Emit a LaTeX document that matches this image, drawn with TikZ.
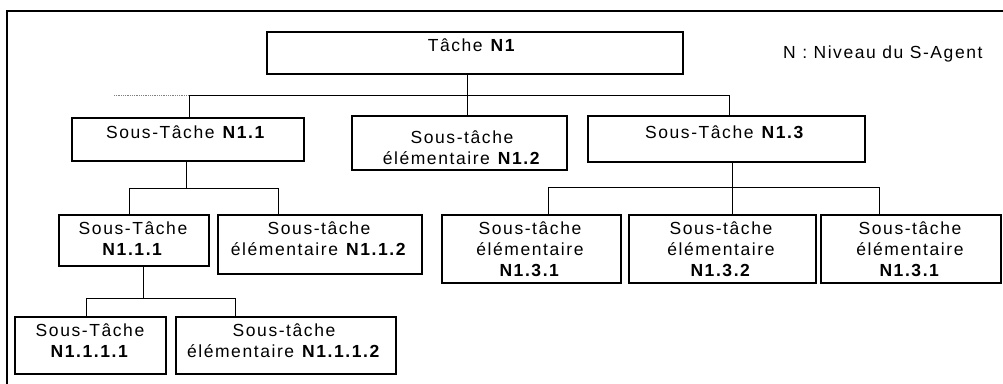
\documentclass[tikz,border=0pt]{standalone}
\usepackage{fontspec}
\setmainfont{Liberation Sans}[LetterSpace=9]
\begin{document}
\begin{tikzpicture}[x=1pt,y=-1pt,
  box/.style={draw, line width=1.6pt, inner sep=0pt, outer sep=0pt, anchor=north west},
  txt/.style={inner sep=0pt, anchor=north, align=center, font=\fontsize{17.5}{21}\selectfont},
  conn/.style={line width=0.8pt},
  frame/.style={line width=2pt}]
\useasboundingbox (0,0) rectangle (1003,383);
% outer frame (cut at right and bottom)
\coordinate (fb) at (7,390);
\coordinate (ftl) at (7,11);
\coordinate (fr) at (1010,11);
\draw[frame] (fb) -- (ftl) -- (fr);
% boxes
\node[box, minimum width=416pt, minimum height=42pt] (n1) at (267,32) {};
\node[box, minimum width=232pt, minimum height=43pt] (n11) at (72,118) {};
\node[box, minimum width=215pt, minimum height=54pt] (n12) at (352,116) {};
\node[box, minimum width=277pt, minimum height=46pt] (n13) at (588,116) {};
\node[box, minimum width=150pt, minimum height=51pt] (n111) at (59,215) {};
\node[box, minimum width=204pt, minimum height=59pt] (n112) at (218,215) {};
\node[box, minimum width=151pt, minimum height=57pt] (n1111) at (15,317) {};
\node[box, minimum width=220pt, minimum height=57pt] (n1112) at (176,317) {};
\node[box, minimum width=179pt, minimum height=68pt] (n131) at (442,215) {};
\node[box, minimum width=187pt, minimum height=68pt] (n132) at (629,215) {};
\node[box, minimum width=180pt, minimum height=68pt] (n133) at (821,215) {};
% texts
\node[txt] (t1) at (472,39) {Tâche \textbf{N1}};
\node[txt] (t11) at (186,126) {Sous-Tâche \textbf{N1.1}};
\node[txt] (t12) at (462,131) {Sous-tâche\\élémentaire \textbf{N1.2}};
\node[txt] (t13) at (725,126) {Sous-Tâche \textbf{N1.3}};
\node[txt] (t111) at (133,222) {Sous-Tâche\\\textbf{N1.1.1}};
\node[txt] (t112) at (319,222) {Sous-tâche\\élémentaire \textbf{N1.1.2}};
\node[txt] (t1111) at (90,324) {Sous-Tâche\\\textbf{N1.1.1.1}};
\node[txt] (t1112) at (284,324) {Sous-tâche\\élémentaire \textbf{N1.1.1.2}};
\node[txt] (t131) at (530,222) {Sous-tâche\\élémentaire\\\textbf{N1.3.1}};
\node[txt] (t132) at (721,222) {Sous-tâche\\élémentaire\\\textbf{N1.3.2}};
\node[txt] (t133) at (910,222) {Sous-tâche\\élémentaire\\\textbf{N1.3.1}};
\node[txt, anchor=north west] (leg) at (783,46) {N : Niveau du S-Agent};
% level 1 bus
\coordinate (bL) at (189,95);
\coordinate (bM) at (467,95);
\coordinate (bR) at (729,95);
\coordinate (bD) at (114,95);
\draw[conn] (bM |- n1.south) -- (bM);
\draw[conn] (bL) -- (bR);
\draw[line width=0.8pt, densely dotted, gray] (bD) -- (bL);
\draw[conn] (bL) -- (bL |- n11.north);
\draw[conn] (bM) -- (bM |- n12.north);
\draw[conn] (bR) -- (bR |- n13.north);
% N1.1 bus
\coordinate (cT) at (186,188);
\coordinate (cL) at (129,188);
\coordinate (cR) at (278,188);
\draw[conn] (cT |- n11.south) -- (cT);
\draw[conn] (cL |- n111.north) -- (cL) -- (cR) -- (cR |- n112.north);
% N1.1.1 bus
\coordinate (dT) at (143,298);
\coordinate (dL) at (86,298);
\coordinate (dR) at (235,298);
\draw[conn] (dT |- n111.south) -- (dT);
\draw[conn] (dL |- n1111.north) -- (dL) -- (dR) -- (dR |- n1112.north);
% N1.3 bus
\coordinate (eT) at (732,187);
\coordinate (eL) at (548,187);
\coordinate (eR) at (879,187);
\draw[conn] (eT |- n13.south) -- (eT |- n132.north);
\draw[conn] (eL |- n131.north) -- (eL) -- (eR) -- (eR |- n133.north);
\end{tikzpicture}
\end{document}
